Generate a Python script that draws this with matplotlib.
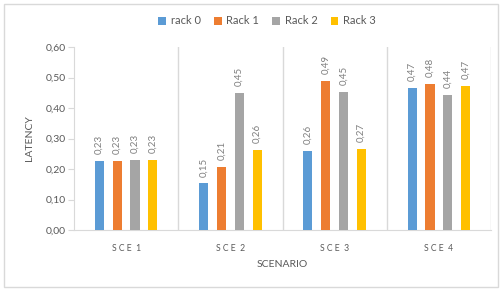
import matplotlib
matplotlib.use("Agg")
import matplotlib.pyplot as plt
import numpy as np

plt.rcParams['font.family'] = ['Lato', 'DejaVu Sans']

scenarios = ['SCE 1', 'SCE 2', 'SCE 3', 'SCE 4']
series = ['rack 0', 'Rack 1', 'Rack 2', 'Rack 3']
rack0 = [0.227, 0.153, 0.259, 0.466]
rack1 = [0.226, 0.206, 0.488, 0.479]
rack2 = [0.230, 0.449, 0.452, 0.443]
rack3 = [0.230, 0.262, 0.266, 0.473]
colors = ['#5B9BD5', '#ED7D31', '#A5A5A5', '#FFC000']
txt = '#595959'

fig = plt.figure(figsize=(5.02, 2.91), dpi=100)
fig.patches.append(plt.Rectangle((4/502, 4/291), 494/502, 283/291, transform=fig.transFigure,
                                 fill=False, edgecolor='#D9D9D9', lw=1))
ax = fig.add_axes([74/502, 1-230/291, 417/502, 183/291])

x = np.arange(len(scenarios))
step = 0.171
width = 0.088
for i, (name, vals) in enumerate(zip(series, [rack0, rack1, rack2, rack3])):
    pos = x + (i - 1.5) * step
    ax.bar(pos, vals, width, color=colors[i], label=name, zorder=3)
    for p, v in zip(pos, vals):
        ax.text(p, v + 0.022, ('%.2f' % v).replace('.', ','), rotation=90,
                ha='center', va='bottom', fontsize=7, color='#7F7F7F')

ax.set_xlim(-0.5, 3.5)
ax.set_ylim(0, 0.6)
ax.set_yticks(np.arange(0, 0.61, 0.1))
ax.set_yticklabels([('%.2f' % t).replace('.', ',') for t in np.arange(0, 0.61, 0.1)],
                   fontsize=7.5, color=txt)
ax.set_xticks(x)
# spaced-out letters like the original
ax.set_xticklabels(['S C E  ' + s[-1] for s in scenarios], fontsize=6.2, color=txt)
for b in [0.5, 1.5, 2.5, 3.5]:
    ax.axvline(b, color='#D9D9D9', lw=1, zorder=1)

for s in ['top', 'right']:
    ax.spines[s].set_visible(False)
ax.spines['left'].set_color('#D9D9D9')
ax.spines['bottom'].set_color('#D9D9D9')
ax.tick_params(axis='y', length=4, color='#D9D9D9', pad=2)
ax.tick_params(axis='x', length=0, pad=10)

ax.set_xlabel('SCENARIO', fontsize=7.5, color=txt, labelpad=5)
ax.set_ylabel('LATENCY', fontsize=7.5, color=txt, labelpad=8)

fig.legend(loc='center', bbox_to_anchor=(267/502, 1-21/291), ncol=4, frameon=False,
           fontsize=8, handlelength=0.7, handleheight=0.7, handletextpad=0.4,
           columnspacing=1.2, labelcolor=txt)

fig.savefig('out.png', dpi=100)
